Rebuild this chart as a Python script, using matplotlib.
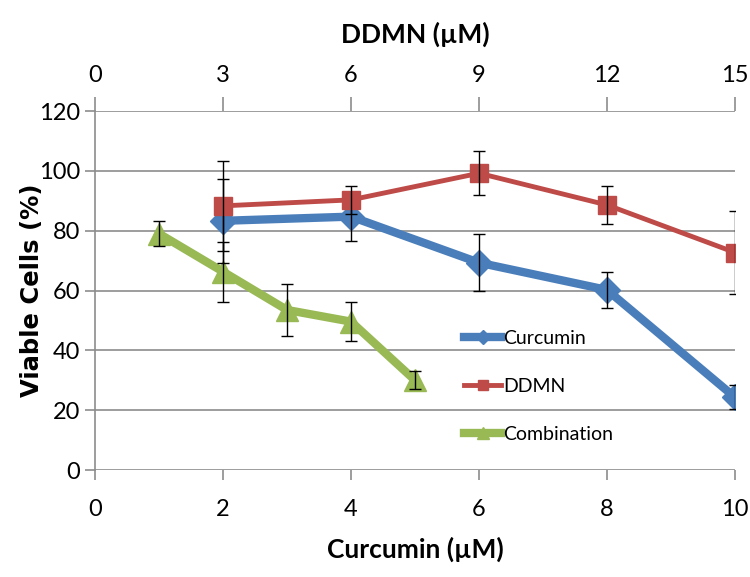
import matplotlib
matplotlib.use("Agg")
import matplotlib.pyplot as plt

# data
curcumin_x = [2, 4, 6, 8, 10]
curcumin_y = [83.3, 84.7, 69.3, 60.2, 24.3]
curcumin_err = [14, 8, 9.5, 6, 4]

ddmn_x = [3, 6, 9, 12, 15]          # plotted on the top (DDMN) axis
ddmn_y = [88.3, 90.3, 99.2, 88.6, 72.7]
ddmn_err = [15, 4.8, 7.3, 6.2, 14]

combo_x = [1, 2, 3, 4, 5]
combo_y = [79, 66.3, 53.5, 49.6, 30]
combo_err = [4.2, 10, 8.7, 6.5, 3]

yticks = [0, 20, 40, 60, 80, 100, 120]
bottom_ticks = [0, 2, 4, 6, 8, 10]
top_ticks = [0, 3, 6, 9, 12, 15]

BLUE = "#4A7EBB"
RED = "#BE4B48"
GREEN = "#98B954"
GRID = "#8C8C8C"
FONT = ["Lato", "DejaVu Sans"]

plt.rcParams["font.family"] = FONT

fig = plt.figure(figsize=(7.5, 5.77), dpi=100)
ax = fig.add_axes([0.1267, 0.1854, 0.8533, 0.6222])
ax.set_xlim(0, 10)
ax.set_ylim(0, 120)

for s in ["top", "right"]:
    ax.spines[s].set_visible(False)
ax.spines["left"].set_color(GRID)
ax.spines["left"].set_linewidth(1.2)
ax.spines["bottom"].set_visible(False)
ax.set_yticks(yticks)
ax.set_xticks(bottom_ticks)
ax.yaxis.grid(True, color=GRID, linewidth=1.2)
ax.set_axisbelow(True)
ax.tick_params(axis="both", colors=GRID, labelcolor="black", labelsize=17,
               length=7, width=1.2)
ax.tick_params(axis="x", pad=14)

ax2 = ax.twiny()
ax2.set_xlim(0, 15)
ax2.set_xticks(top_ticks)
for s in ["top", "right", "left", "bottom"]:
    ax2.spines[s].set_visible(False)
ax2.tick_params(axis="x", colors=GRID, labelcolor="black", labelsize=17,
                length=10, width=1.2, pad=8)

# error bars
ax.errorbar(curcumin_x, curcumin_y, yerr=curcumin_err, fmt="none",
            ecolor="black", elinewidth=1, capsize=4, zorder=6)
ax.errorbar(combo_x, combo_y, yerr=combo_err, fmt="none",
            ecolor="black", elinewidth=1, capsize=4, zorder=6)
ax2.errorbar(ddmn_x, ddmn_y, yerr=ddmn_err, fmt="none",
             ecolor="black", elinewidth=1, capsize=4, zorder=6)

l1, = ax.plot(curcumin_x, curcumin_y, color=BLUE, linewidth=6, marker="D",
              markersize=13, label="Curcumin", zorder=4)
l3, = ax.plot(combo_x, combo_y, color=GREEN, linewidth=6, marker="^",
              markersize=16, label="Combination", zorder=4)
l2, = ax2.plot(ddmn_x, ddmn_y, color=RED, linewidth=3.5, marker="s",
               markersize=13, label="DDMN", zorder=4)

leg = ax2.legend([l1, l2, l3], ["Curcumin", "DDMN", "Combination"],
                 loc="upper left", bbox_to_anchor=(0.565, 0.413),
                 frameon=False, handlelength=1.9, handletextpad=0.1,
                 labelspacing=1.6, fontsize=14, markerscale=0.55,
                 borderaxespad=0)

ax.set_xlabel("Curcumin (µM)", fontsize=19, fontweight="bold", labelpad=12)
ax2.set_xlabel("DDMN (µM)", fontsize=19, fontweight="bold", labelpad=16)
ax.set_ylabel("Viable Cells (%)", fontsize=17.5, fontweight="bold",
              family="DejaVu Sans")
ax.yaxis.set_label_coords(-0.08, 0.5)

fig.savefig("out.png", dpi=100)
